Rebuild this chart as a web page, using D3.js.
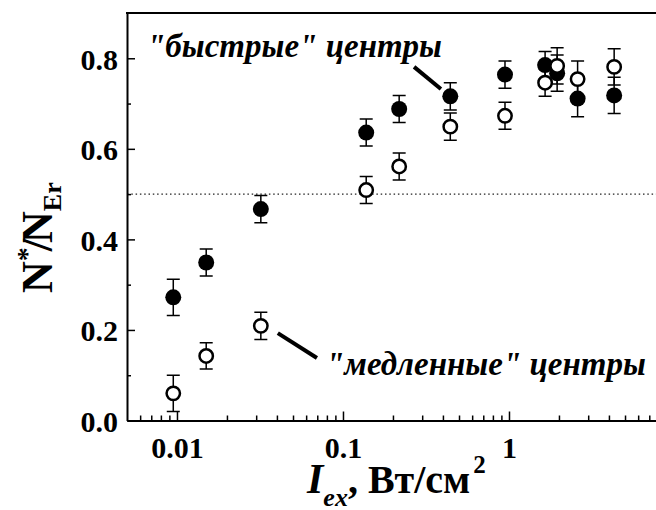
<!DOCTYPE html>
<html>
<head>
<meta charset="utf-8">
<script src="https://cdn.jsdelivr.net/npm/d3@7"></script>
<style>
  body { margin: 0; background: #fff; }
  svg { display: block; }
  text { font-family: "Liberation Serif", "Times New Roman", Times, serif; font-weight: bold; }
</style>
</head>
<body>
<div id="chart"></div>
<script>
const serif = "'Liberation Serif', 'Times New Roman', Times, serif";

// excitation intensity, W/cm^2
const intensity = [0.0095, 0.015, 0.032, 0.138, 0.218, 0.443, 0.946, 1.65, 1.95, 2.59, 4.3];
// "fast" centres (filled) and "slow" centres (open)
const fast    = [0.272, 0.349, 0.467, 0.636, 0.688, 0.716, 0.764, 0.785, 0.767, 0.711, 0.718];
const fastErr = [0.04, 0.03, 0.03, 0.03, 0.03, 0.03, 0.03, 0.03, 0.04, 0.04, 0.04];
const slow    = [0.06, 0.1425, 0.209, 0.509, 0.561, 0.649, 0.673, 0.746, 0.783, 0.754, 0.781];
const slowErr = [0.04, 0.029, 0.03, 0.03, 0.03, 0.03, 0.03, 0.03, 0.04, 0.04, 0.04];

const yTicks = [0, 0.2, 0.4, 0.6, 0.8];
const yMinor = [0.1, 0.3, 0.5, 0.7];
const xTicks = [0.01, 0.1, 1];
const refLevel = 0.5;

// labels with leader lines, in data units
const notes = [
  { text: "\"быстрые\" центры", x: 0.0066, y: 0.803, from: [0.268, 0.781], to: [0.389, 0.732] },
  { text: "\"медленные\" центры", x: 0.079, y: 0.100, from: [0.0405, 0.193], to: [0.0697, 0.138] }
];

const width = 656, height = 510;
const svg = d3.select("#chart").append("svg")
  .attr("width", width).attr("height", height)
  .style("font-family", serif);

const x = d3.scaleLog().domain([0.005, 10]).range([127, 675]);
const y = d3.scaleLinear().domain([0, 0.9]).range([420.5, 13]);

// minor x ticks 2..9 per decade
const xMinor = [];
[0.001, 0.01, 0.1, 1].forEach(d => { for (let k = 2; k <= 9; k++) xMinor.push(d * k); });
const xMinorIn = xMinor.filter(v => v > 0.005 && v < 10);

// dotted reference line
svg.append("line")
  .attr("x1", x(0.005)).attr("x2", width)
  .attr("y1", y(refLevel)).attr("y2", y(refLevel))
  .attr("stroke", "#222").attr("stroke-width", 1.2)
  .attr("stroke-dasharray", "1.5,2.8");

// top frame
svg.append("line")
  .attr("x1", x(0.005) - 1).attr("x2", width)
  .attr("y1", y(0.9)).attr("y2", y(0.9))
  .attr("stroke", "#000").attr("stroke-width", 2);

// y axis
svg.append("g")
  .attr("transform", `translate(${x(0.005)},0)`)
  .call(d3.axisLeft(y).tickValues(yMinor).tickSize(-4).tickFormat(""))
  .call(g => g.select(".domain").remove())
  .call(g => g.selectAll(".tick line").attr("stroke-width", 1.5));

svg.append("g")
  .attr("transform", `translate(${x(0.005)},0)`)
  .call(d3.axisLeft(y).tickValues(yTicks).tickSize(-8).tickSizeOuter(0).tickPadding(9)
    .tickFormat(d3.format(".1f")))
  .call(g => g.attr("font-family", null))
  .call(g => g.select(".domain").attr("stroke-width", 2))
  .call(g => g.selectAll(".tick line").attr("stroke-width", 1.5))
  .call(g => g.selectAll("text")
    .attr("dy", "0.36em")
    .attr("fill", "#000")
    .style("font-size", "30px")
    .style("font-family", serif)
    .style("font-weight", "bold"));

// x axis
svg.append("g")
  .attr("transform", `translate(0,${y(0)})`)
  .call(d3.axisBottom(x).tickValues(xMinorIn).tickSize(-5).tickFormat(""))
  .call(g => g.select(".domain").remove())
  .call(g => g.selectAll(".tick line").attr("stroke-width", 1.5));

svg.append("g")
  .attr("transform", `translate(0,${y(0)})`)
  .call(d3.axisBottom(x).tickValues(xTicks).tickSize(-9).tickSizeOuter(0).tickPadding(12)
    .tickFormat(d => d3.format("~g")(d)))
  .call(g => g.attr("font-family", null))
  .call(g => g.select(".domain").attr("stroke-width", 2))
  .call(g => g.selectAll(".tick line").attr("stroke-width", 1.5))
  .call(g => g.selectAll("text")
    .attr("y", 37).attr("dy", 0)
    .attr("fill", "#000")
    .style("font-size", "30px")
    .style("font-family", serif)
    .style("font-weight", "bold"));

// error bars + markers
function series(values, errs, filled) {
  const pts = values.map((v, i) => ({ x: intensity[i], y: v, e: errs[i] }));
  const g = svg.append("g");
  const cap = 6.5;
  g.selectAll("path.err")
    .data(pts)
    .join("path")
    .attr("class", "err")
    .attr("d", d => {
      const cx = x(d.x), t = y(d.y + d.e), b = y(d.y - d.e);
      return `M${cx},${t}V${b}M${cx - cap},${t}H${cx + cap}M${cx - cap},${b}H${cx + cap}`;
    })
    .attr("fill", "none")
    .attr("stroke", "#000")
    .attr("stroke-width", 1.5);
  g.selectAll("circle")
    .data(pts)
    .join("circle")
    .attr("cx", d => x(d.x))
    .attr("cy", d => y(d.y))
    .attr("r", filled ? 8 : 6.7)
    .attr("fill", filled ? "#000" : "#fff")
    .attr("stroke", "#000")
    .attr("stroke-width", filled ? 0 : 2.5);
}
series(fast, fastErr, true);
series(slow, slowErr, false);

// annotations
notes.forEach(n => {
  svg.append("line")
    .attr("x1", x(n.from[0])).attr("y1", y(n.from[1]))
    .attr("x2", x(n.to[0])).attr("y2", y(n.to[1]))
    .attr("stroke", "#000").attr("stroke-width", 4);
  svg.append("text")
    .attr("x", x(n.x)).attr("y", y(n.y))
    .style("font-size", "33px")
    .style("font-style", "italic")
    .text(n.text);
});

// y axis title
const yt = svg.append("text")
  .attr("transform", "translate(52,293) rotate(-90)")
  .attr("text-anchor", "start")
  .style("font-size", "44px");
yt.append("tspan").text("N");
yt.append("tspan").style("font-size", "28px").attr("dy", -16).text("*");
yt.append("tspan").attr("dy", 16).attr("dx", -4).text("/");
yt.append("tspan").attr("dx", -4).text("N");
yt.append("tspan").style("font-size", "26px").attr("dy", 9).text("Er");

// x axis title
const xt = svg.append("text")
  .attr("x", 307).attr("y", 493)
  .style("font-size", "42px");
xt.append("tspan").style("font-style", "italic").text("I");
xt.append("tspan").style("font-style", "italic").style("font-size", "26px").attr("dy", 13).text("ex");
xt.append("tspan").attr("dy", -13).style("font-size", "40px").text(", Вт/см");
xt.append("tspan").style("font-size", "25px").attr("dx", 3).attr("dy", -20).text("2");
</script>
</body>
</html>
